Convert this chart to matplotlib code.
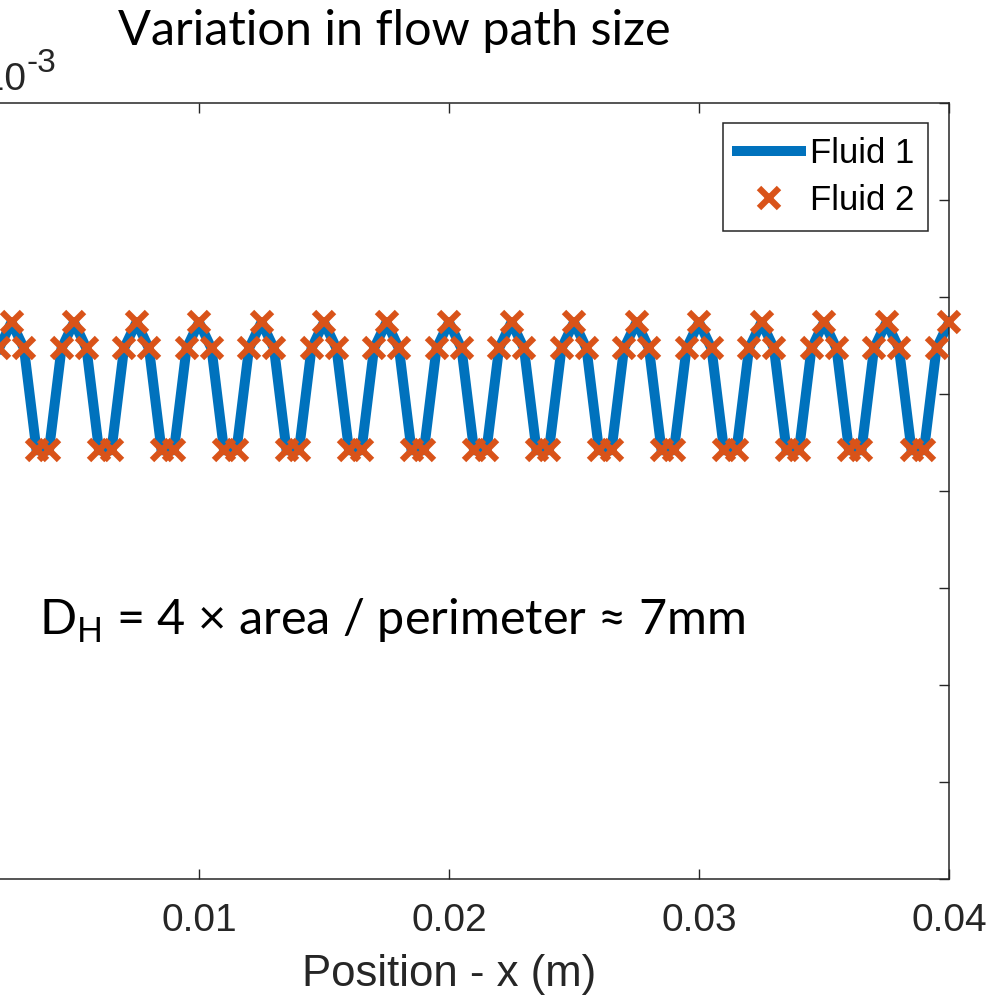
import matplotlib
matplotlib.use("Agg")
import matplotlib.pyplot as plt
import numpy as np

# position along the channel (mm)
position_mm = [
    0.0, 0.5, 1.0, 1.5, 2.0, 2.5, 3.0, 3.5, 4.0, 4.5,
    5.0, 5.5, 6.0, 6.5, 7.0, 7.5, 8.0, 8.5, 9.0, 9.5,
    10.0, 10.5, 11.0, 11.5, 12.0, 12.5, 13.0, 13.5, 14.0, 14.5,
    15.0, 15.5, 16.0, 16.5, 17.0, 17.5, 18.0, 18.5, 19.0, 19.5,
    20.0, 20.5, 21.0, 21.5, 22.0, 22.5, 23.0, 23.5, 24.0, 24.5,
    25.0, 25.5, 26.0, 26.5, 27.0, 27.5, 28.0, 28.5, 29.0, 29.5,
    30.0, 30.5, 31.0, 31.5, 32.0, 32.5, 33.0, 33.5, 34.0, 34.5,
    35.0, 35.5, 36.0, 36.5, 37.0, 37.5, 38.0, 38.5, 39.0, 39.5,
    40.0,
]

# hydraulic diameter (mm)
fluid1_dh_mm = [
    5.74, 5.47, 4.42, 4.42, 5.47, 5.74, 5.47, 4.42, 4.42, 5.47,
    5.74, 5.47, 4.42, 4.42, 5.47, 5.74, 5.47, 4.42, 4.42, 5.47,
    5.74, 5.47, 4.42, 4.42, 5.47, 5.74, 5.47, 4.42, 4.42, 5.47,
    5.74, 5.47, 4.42, 4.42, 5.47, 5.74, 5.47, 4.42, 4.42, 5.47,
    5.74, 5.47, 4.42, 4.42, 5.47, 5.74, 5.47, 4.42, 4.42, 5.47,
    5.74, 5.47, 4.42, 4.42, 5.47, 5.74, 5.47, 4.42, 4.42, 5.47,
    5.74, 5.47, 4.42, 4.42, 5.47, 5.74, 5.47, 4.42, 4.42, 5.47,
    5.74, 5.47, 4.42, 4.42, 5.47, 5.74, 5.47, 4.42, 4.42, 5.47,
    5.74,
]
# both fluids see the same channel geometry
fluid2_dh_mm = fluid1_dh_mm

# the "0" tick sits outside the cropped picture, so only these show
x_ticks = [0.01, 0.02, 0.03, 0.04]
x_tick_labels = ["0.01", "0.02", "0.03", "0.04"]
y_ticks = [0.000, 0.001, 0.002, 0.003, 0.004, 0.005, 0.006, 0.007, 0.008]

BLUE = "#0072BD"
ORANGE = "#D95319"
AX_COLOR = "#262626"
W, H = 993, 998

x = np.array(position_mm) * 1e-3
y1 = np.array(fluid1_dh_mm) * 1e-3
y2 = np.array(fluid2_dh_mm) * 1e-3

fig = plt.figure(figsize=(W / 100, H / 100), dpi=100)
ax = fig.add_axes([-51 / W, (H - 879) / H, 1000 / W, 776 / H])

ax.plot(x, y1, color=BLUE, lw=7.2, label="Fluid 1", zorder=2)
ax.plot(x, y2, ls="none", marker="x", ms=15, mew=4.5, color=ORANGE,
        label="Fluid 2", zorder=3, clip_on=False)

ax.set_xlim(0, 0.04)
ax.set_ylim(0, 0.008)
ax.set_xticks(x_ticks)
ax.set_xticklabels(x_tick_labels)
ax.set_yticks(y_ticks)
ax.tick_params(direction="in", length=7, width=1, color=AX_COLOR,
               top=True, right=True, labelleft=False,
               labelsize=28, labelcolor=AX_COLOR, pad=17)
for lab in ax.get_xticklabels():
    lab.set_fontfamily("Liberation Sans")
for sp in ax.spines.values():
    sp.set_color(AX_COLOR)
    sp.set_linewidth(1.1)

ax.set_xlabel("Position - x (m)", fontsize=31.5, family="Liberation Sans",
              color=AX_COLOR, labelpad=11)

leg = ax.legend(loc="upper right", bbox_to_anchor=(928 / W, 1 - 123 / H),
                bbox_transform=fig.transFigure, borderaxespad=0,
                fancybox=False, framealpha=1, edgecolor=AX_COLOR,
                prop={"family": "Liberation Sans", "size": 25},
                handlelength=1.85, handletextpad=0.25, labelspacing=0.42,
                borderpad=0.4)
leg.get_frame().set_linewidth(1.1)
for t in leg.get_texts():
    t.set_color("black")

# exponent label (axis is cropped on the left)
fig.text(26 / W, 1 - 90 / H, "×10", ha="right", va="baseline",
         fontsize=28, family="Liberation Sans", color=AX_COLOR)
fig.text(27 / W, 1 - 72 / H, "-3", ha="left", va="baseline",
         fontsize=24, family="Liberation Sans", color=AX_COLOR)

fig.text(118 / W, 1 - 45 / H, "Variation in flow path size", ha="left",
         va="baseline", fontsize=35, family=["Lato", "DejaVu Sans"], color="black")

fig.text(746 / W, 1 - 635 / H,
         r"D$_{\mathregular{H}}$ = 4 × area / perimeter ≈ 7mm",
         ha="right", va="baseline", fontsize=35,
         family=["Lato", "DejaVu Sans"], color="black")

fig.savefig("out.png", dpi=100)
